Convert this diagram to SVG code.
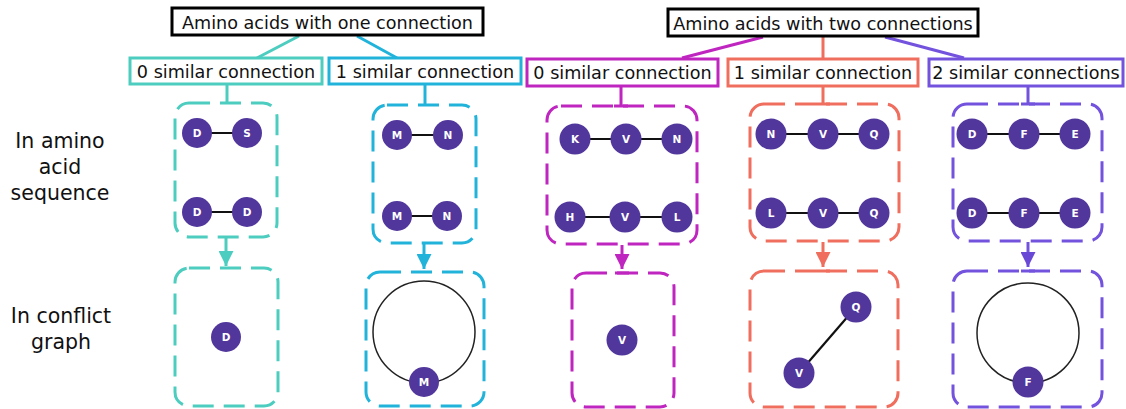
<svg xmlns="http://www.w3.org/2000/svg" width="1126" height="409" viewBox="0 0 1126 409">
<style>
.t{font-family:"DejaVu Sans","Verdana",sans-serif;font-size:17.6px;fill:#111;}
.side{font-family:"DejaVu Sans","Verdana",sans-serif;font-size:20.5px;fill:#111;text-anchor:middle;}
.bx{fill:#fff;stroke-width:3;}
.dash{fill:none;stroke-width:3;stroke-dasharray:21 10;}
.n circle{fill:#51369C;}
.n text{font-family:"DejaVu Sans",sans-serif;font-weight:bold;font-size:10.5px;fill:#fff;text-anchor:middle;}
.edge{stroke:#111;stroke-width:2.2;}
.loop{fill:none;stroke:#222;stroke-width:1.5;}
.c{fill:none;stroke-width:3;}
.teal{stroke:#4DCDBF;} .blue{stroke:#22B3DB;} .mag{stroke:#BF25BF;} .org{stroke:#EF6E5E;} .pur{stroke:#7352DE;}
</style>
<defs>
<marker id="ah-teal" markerWidth="5" markerHeight="5" refX="5" refY="2.5" orient="auto" markerUnits="strokeWidth"><path d="M0,0 L5,2.5 L0,5 z" fill="#4DCDBF"/></marker>
<marker id="ah-blue" markerWidth="5" markerHeight="5" refX="5" refY="2.5" orient="auto" markerUnits="strokeWidth"><path d="M0,0 L5,2.5 L0,5 z" fill="#22B3DB"/></marker>
<marker id="ah-mag" markerWidth="5" markerHeight="5" refX="5" refY="2.5" orient="auto" markerUnits="strokeWidth"><path d="M0,0 L5,2.5 L0,5 z" fill="#BF25BF"/></marker>
<marker id="ah-org" markerWidth="5" markerHeight="5" refX="5" refY="2.5" orient="auto" markerUnits="strokeWidth"><path d="M0,0 L5,2.5 L0,5 z" fill="#EF6E5E"/></marker>
<marker id="ah-pur" markerWidth="5" markerHeight="5" refX="5" refY="2.5" orient="auto" markerUnits="strokeWidth"><path d="M0,0 L5,2.5 L0,5 z" fill="#6A48D6"/></marker>
</defs>
<rect width="1126" height="409" fill="#fff"/>

<g id="row-labels">
<text class="side" x="60" y="148">In amino</text>
<text class="side" x="60" y="174">acid</text>
<text class="side" x="60" y="200">sequence</text>
<text class="side" x="61" y="323">In conflict</text>
<text class="side" x="61" y="349">graph</text>
</g>

<g id="connectors">
<line class="c teal" x1="299" y1="36" x2="257" y2="58"/>
<line class="c blue" x1="357" y1="36" x2="397" y2="58"/>
<line class="c mag" x1="763" y1="37" x2="682" y2="58"/>
<line class="c org" x1="823" y1="37" x2="823" y2="58"/>
<line class="c pur" x1="885" y1="37" x2="964" y2="58"/>
<line class="c teal" x1="227" y1="85" x2="227" y2="103"/>
<line class="c blue" x1="425" y1="85" x2="425" y2="105"/>
<path class="c mag" d="M621,86 V106 M614,106 H628"/>
<path class="c org" d="M823,86 V104 M816,104 H830"/>
<path class="c pur" d="M1028,86 V104 M1021,104 H1035"/>
<line class="c teal" x1="226" y1="238" x2="226" y2="266" marker-end="url(#ah-teal)"/>
<line class="c blue" x1="424" y1="244" x2="424" y2="269" marker-end="url(#ah-blue)"/>
<line class="c mag" x1="622" y1="245" x2="622" y2="269" marker-end="url(#ah-mag)"/>
<path class="c mag" d="M615,273 H629"/>
<line class="c org" x1="823" y1="242" x2="823" y2="267" marker-end="url(#ah-org)"/>
<path class="c org" d="M816,271 H830"/>
<line class="c pur" x1="1028" y1="242" x2="1028" y2="267" marker-end="url(#ah-pur)"/>
<path class="c pur" d="M1021,271 H1035"/>
</g>

<g id="header-one">
<rect class="bx" x="172" y="8" width="311" height="27" stroke="#000"/>
<text class="t" x="327.5" y="29" text-anchor="middle">Amino acids with one connection</text>
</g>
<g id="header-two">
<rect class="bx" x="668" y="9" width="310" height="27" stroke="#000"/>
<text class="t" x="823" y="30" text-anchor="middle">Amino acids with two connections</text>
</g>

<g id="cat-one-0">
<rect class="bx teal" x="130" y="58" width="192" height="26"/>
<text class="t" x="226" y="78" text-anchor="middle">0 similar connection</text>
</g>
<g id="cat-one-1">
<rect class="bx blue" x="329" y="58" width="192" height="26"/>
<text class="t" x="425" y="78" text-anchor="middle">1 similar connection</text>
</g>
<g id="cat-two-0">
<rect class="bx mag" x="527" y="59" width="191" height="27"/>
<text class="t" x="622.5" y="79" text-anchor="middle">0 similar connection</text>
</g>
<g id="cat-two-1">
<rect class="bx org" x="728" y="59" width="190" height="27"/>
<text class="t" x="823" y="79" text-anchor="middle">1 similar connection</text>
</g>
<g id="cat-two-2">
<rect class="bx pur" x="929" y="59" width="194" height="27"/>
<text class="t" x="1026" y="79" text-anchor="middle">2 similar connections</text>
</g>

<g id="seq-one-0">
<rect class="dash teal" x="175" y="103" width="102" height="134" rx="14"/>
<line class="edge" x1="197" y1="133" x2="247" y2="133"/>
<line class="edge" x1="197" y1="212" x2="247" y2="212"/>
<g class="n"><circle cx="197" cy="133" r="15"/><text x="197" y="137">D</text></g>
<g class="n"><circle cx="247" cy="133" r="15"/><text x="247" y="137">S</text></g>
<g class="n"><circle cx="197" cy="212" r="15"/><text x="197" y="216">D</text></g>
<g class="n"><circle cx="247" cy="212" r="15"/><text x="247" y="216">D</text></g>
</g>
<g id="seq-one-1">
<rect class="dash blue" x="373" y="105" width="103" height="138" rx="14"/>
<line class="edge" x1="397" y1="135" x2="448" y2="135"/>
<line class="edge" x1="397" y1="216" x2="447" y2="216"/>
<g class="n"><circle cx="397" cy="135" r="15"/><text x="397" y="139">M</text></g>
<g class="n"><circle cx="448" cy="135" r="15"/><text x="448" y="139">N</text></g>
<g class="n"><circle cx="397" cy="216" r="15"/><text x="397" y="220">M</text></g>
<g class="n"><circle cx="447" cy="216" r="15"/><text x="447" y="220">N</text></g>
</g>
<g id="seq-two-0">
<rect class="dash mag" x="547" y="106" width="150" height="138" rx="14"/>
<line class="edge" x1="575" y1="139" x2="677" y2="139"/>
<line class="edge" x1="570" y1="217" x2="677" y2="217"/>
<g class="n"><circle cx="575" cy="139" r="15.5"/><text x="575" y="143">K</text></g>
<g class="n"><circle cx="626" cy="139" r="15.5"/><text x="626" y="143">V</text></g>
<g class="n"><circle cx="677" cy="139" r="15.5"/><text x="677" y="143">N</text></g>
<g class="n"><circle cx="570" cy="217" r="15.5"/><text x="570" y="221">H</text></g>
<g class="n"><circle cx="625" cy="217" r="15.5"/><text x="625" y="221">V</text></g>
<g class="n"><circle cx="677" cy="217" r="15.5"/><text x="677" y="221">L</text></g>
</g>
<g id="seq-two-1">
<rect class="dash org" x="750" y="104" width="149" height="137" rx="14"/>
<line class="edge" x1="771" y1="134" x2="874" y2="134"/>
<line class="edge" x1="771" y1="213" x2="874" y2="213"/>
<g class="n"><circle cx="771" cy="134" r="15.5"/><text x="771" y="138">N</text></g>
<g class="n"><circle cx="823" cy="134" r="15.5"/><text x="823" y="138">V</text></g>
<g class="n"><circle cx="874" cy="134" r="15.5"/><text x="874" y="138">Q</text></g>
<g class="n"><circle cx="771" cy="213" r="15.5"/><text x="771" y="217">L</text></g>
<g class="n"><circle cx="823" cy="213" r="15.5"/><text x="823" y="217">V</text></g>
<g class="n"><circle cx="874" cy="213" r="15.5"/><text x="874" y="217">Q</text></g>
</g>
<g id="seq-two-2">
<rect class="dash pur" x="953" y="104" width="149" height="137" rx="14"/>
<line class="edge" x1="972" y1="134" x2="1075" y2="134"/>
<line class="edge" x1="972" y1="213" x2="1075" y2="213"/>
<g class="n"><circle cx="972" cy="134" r="15.5"/><text x="972" y="138">D</text></g>
<g class="n"><circle cx="1024" cy="134" r="15.5"/><text x="1024" y="138">F</text></g>
<g class="n"><circle cx="1075" cy="134" r="15.5"/><text x="1075" y="138">E</text></g>
<g class="n"><circle cx="972" cy="213" r="15.5"/><text x="972" y="217">D</text></g>
<g class="n"><circle cx="1024" cy="213" r="15.5"/><text x="1024" y="217">F</text></g>
<g class="n"><circle cx="1075" cy="213" r="15.5"/><text x="1075" y="217">E</text></g>
</g>

<g id="graph-one-0">
<rect class="dash teal" x="175" y="268" width="103" height="138" rx="14"/>
<g class="n"><circle cx="226" cy="337" r="15"/><text x="226" y="341">D</text></g>
</g>
<g id="graph-one-1">
<rect class="dash blue" x="366" y="272" width="118" height="134" rx="14"/>
<circle class="loop" cx="424" cy="332" r="51"/>
<g class="n"><circle cx="424" cy="382" r="15"/><text x="424" y="386">M</text></g>
</g>
<g id="graph-two-0">
<rect class="dash mag" x="572" y="273" width="102" height="134" rx="14"/>
<g class="n"><circle cx="622" cy="340" r="15.5"/><text x="622" y="344">V</text></g>
</g>
<g id="graph-two-1">
<rect class="dash org" x="750" y="271" width="148" height="136" rx="14"/>
<line class="edge" x1="799" y1="373" x2="856" y2="307"/>
<g class="n"><circle cx="856" cy="307" r="15.5"/><text x="856" y="311">Q</text></g>
<g class="n"><circle cx="799" cy="373" r="15.5"/><text x="799" y="377">V</text></g>
</g>
<g id="graph-two-2">
<rect class="dash pur" x="953" y="271" width="149" height="136" rx="14"/>
<ellipse class="loop" cx="1028" cy="333" rx="51" ry="50"/>
<g class="n"><circle cx="1028" cy="382" r="15.5"/><text x="1028" y="386">F</text></g>
</g>
</svg>
